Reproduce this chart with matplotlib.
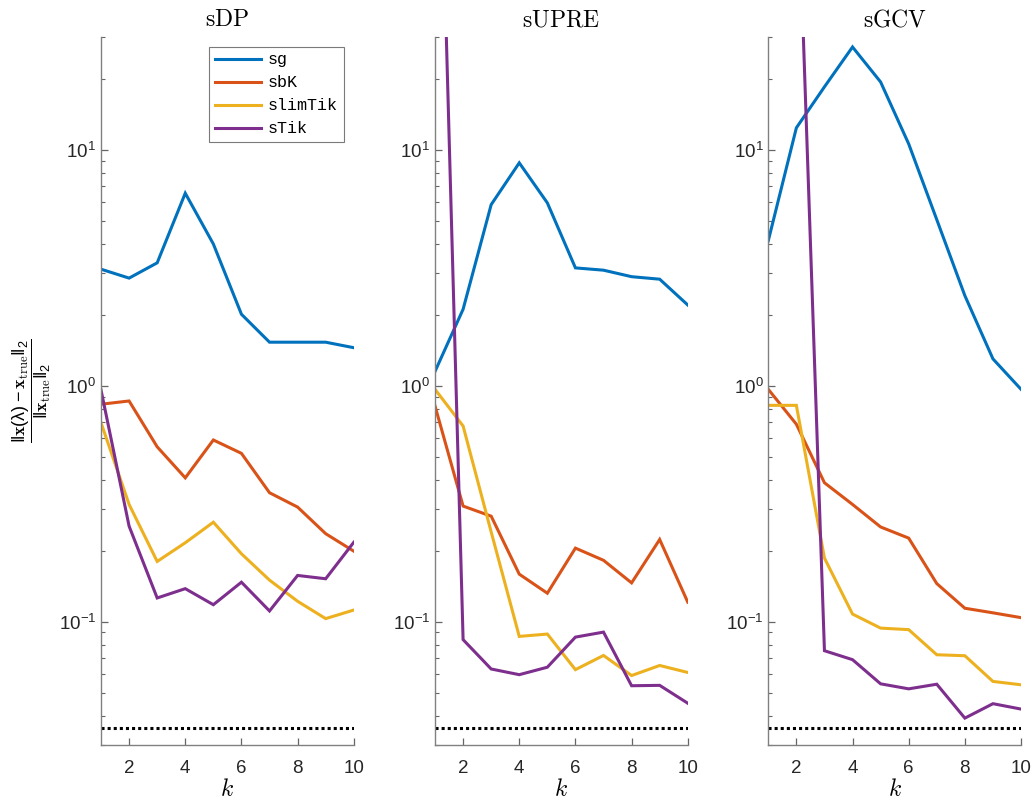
import numpy as np
import matplotlib
matplotlib.use("Agg")
import matplotlib.pyplot as plt
from matplotlib.ticker import LogLocator, NullFormatter

plt.rcParams['font.family'] = ['Liberation Sans', 'DejaVu Sans']
plt.rcParams['mathtext.default'] = 'regular'

k = np.arange(1, 11)
methods = ['sDP', 'sUPRE', 'sGCV']
names = ['sg', 'sbK', 'slimTik', 'sTik']
colors = ['#0072BD', '#D95319', '#EDB120', '#7E2F8E']

# relative errors, one list per method and solver
sg = {
    'sDP':   [3.12, 2.86, 3.32, 6.55, 3.99, 2.01, 1.53, 1.53, 1.53, 1.45],
    'sUPRE': [1.15, 2.11, 5.86, 8.81, 5.96, 3.16, 3.09, 2.90, 2.83, 2.20],
    'sGCV':  [4.12, 12.4, 18.5, 27.3, 19.4, 10.6, 5.06, 2.41, 1.30, 0.966],
}
sbK = {
    'sDP':   [0.835, 0.862, 0.551, 0.407, 0.589, 0.517, 0.352, 0.306, 0.236, 0.199],
    'sUPRE': [0.821, 0.309, 0.280, 0.159, 0.132, 0.205, 0.182, 0.146, 0.223, 0.121],
    'sGCV':  [0.966, 0.687, 0.388, 0.314, 0.252, 0.226, 0.145, 0.114, 0.109, 0.104],
}
slimTik = {
    'sDP':   [0.697, 0.314, 0.180, 0.216, 0.264, 0.194, 0.150, 0.122, 0.103, 0.112],
    'sUPRE': [0.966, 0.675, 0.240, 0.0866, 0.0886, 0.0626, 0.0719, 0.0591, 0.0652, 0.0609],
    'sGCV':  [0.826, 0.826, 0.186, 0.1077, 0.0939, 0.0925, 0.0724, 0.0717, 0.0558, 0.054],
}
sTik = {
    'sDP':   [0.96, 0.254, 0.126, 0.138, 0.118, 0.147, 0.111, 0.157, 0.152, 0.217],
    'sUPRE': [1600, 0.0839, 0.063, 0.0596, 0.0641, 0.086, 0.0903, 0.0535, 0.0537, 0.0451],
    'sGCV':  [1e4, 220, 0.0753, 0.069, 0.0545, 0.0519, 0.0543, 0.039, 0.0449, 0.0426],
}
ref_level = 0.0355

fig = plt.figure(figsize=(10.35, 8), dpi=100)
lefts = [0.0976, 0.4203, 0.7423]
axes = []
for i, m in enumerate(methods):
    ax = fig.add_axes([lefts[i], 0.06875, 0.2442, 0.8846])
    axes.append(ax)
    for data, name, c in zip([sg, sbK, slimTik, sTik], names, colors):
        ax.plot(k, data[m], color=c, lw=2.2, label=name, solid_joinstyle='miter')
    ax.plot([1, 10], [ref_level, ref_level], color='black', ls=(0, (1, 1)), lw=2.2)
    ax.set_yscale('log')
    ax.set_ylim(0.03, 30)
    ax.set_xlim(1, 10)
    ax.set_xticks([2, 4, 6, 8, 10])
    ax.yaxis.set_major_locator(LogLocator(base=10, numticks=10))
    ax.yaxis.set_minor_locator(LogLocator(base=10, subs=np.arange(2, 10), numticks=20))
    ax.yaxis.set_minor_formatter(NullFormatter())
    for s in ['top', 'right']:
        ax.spines[s].set_visible(False)
    for s in ['left', 'bottom']:
        ax.spines[s].set_color('0.5')
        ax.spines[s].set_linewidth(1.0)
    ax.tick_params(which='major', direction='in', length=5, width=0.9, color='0.4',
                   labelsize=13.5, labelcolor='#262626')
    ax.tick_params(axis='x', pad=11)
    ax.tick_params(which='minor', direction='in', length=3, width=0.8, color='0.4')
    ax.set_title(r'$\mathrm{' + m + '}$', fontsize=17, pad=8, math_fontfamily='cm')
    ax.set_xlabel(r'$\mathit{k}$', fontsize=17, labelpad=1, math_fontfamily='cm')

axes[0].set_ylabel(r'$\dfrac{\|\mathbf{x}(\lambda)-\mathbf{x}_{\mathrm{true}}\|_2}{\|\mathbf{x}_{\mathrm{true}}\|_2}$',
                   fontsize=13, math_fontfamily='cm', labelpad=4)

leg = axes[0].legend(loc='upper right', bbox_to_anchor=(0.960, 0.987),
                     borderaxespad=0,
                     prop={'family': 'Liberation Mono', 'size': 12},
                     handlelength=2.75, frameon=True, fancybox=False,
                     borderpad=0.35, labelspacing=0.48, handletextpad=0.4)
leg.get_frame().set_edgecolor('0.35')
leg.get_frame().set_linewidth(0.8)

fig.savefig('out.png', dpi=100)
